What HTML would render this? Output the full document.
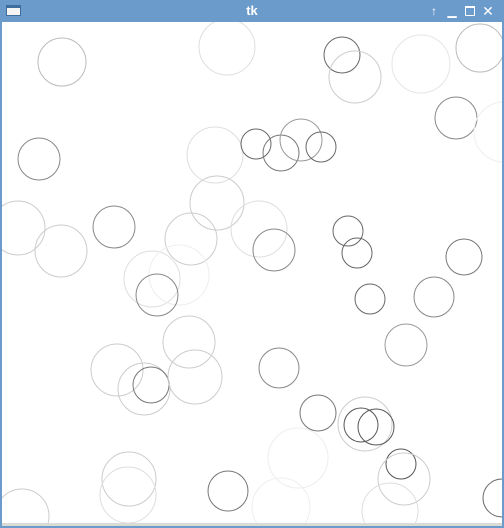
<!DOCTYPE html>
<html><head><meta charset="utf-8">
<style>
html,body{margin:0;padding:0;width:504px;height:528px;overflow:hidden;background:#6b9bcb;font-family:"Liberation Sans","DejaVu Sans",sans-serif}
#win{position:absolute;left:0;top:0;width:504px;height:528px;background:#6b9bcb}
#title{position:absolute;left:0;top:0;width:504px;height:22px;color:#fff;font-weight:bold;font-size:13px;text-align:center;line-height:22px}
#canvas{position:absolute;left:2px;top:22px;width:500px;height:501px;background:#fff}
#statusbar{position:absolute;left:2px;top:523px;width:500px;height:3px;background:#dcdad5}
.btn{position:absolute;top:5px;width:12px;height:12px;color:#fff;font-size:12px;line-height:12px;text-align:center}
</style></head><body>
<div id="win">
  <div id="title">tk</div>
  <div style="position:absolute;left:6px;top:5px;width:15px;height:11px;background:#f4f4f4;border:1px solid #3f6e9c;border-top:3px solid #3f6e9c;box-sizing:border-box"></div>
  <div class="btn" style="left:428px">↑</div>
  <div class="btn" style="left:446px">▁</div>
  <div class="btn" style="left:464px"><div style="margin:1px;width:10px;height:10px;border:1px solid #fff;border-top-width:2px;box-sizing:border-box"></div></div>
  <div class="btn" style="left:482px;font-weight:bold;font-size:14px">✕</div>
  <svg id="canvas" width="500" height="501" viewBox="2 22 500 501"></svg>
  <div id="statusbar"></div>
</div>
<script>
const cxs=[62,227,39,215,217,18,61,114,191,259,152,179,157,189,117,144,151,195,129,128,22,228,342,355,421,480,456,504,256,281,301,321,274,348,357,464,370,434,406,279,318,365,361,376,298,281,401,404,390,502];
const cys=[62,47,159,155,203,228,251,227,239,229,279,275,295,342,370,389,385,377,479,495,516,491,55,77,64,48,118,132,144,153,140,147,250,231,253,257,299,297,345,368,413,424,425,427,458,507,464,479,511,498];
const rs=[24,28,21,28,27,27,26,21,26,28,28,30,21,26,26,26,18,27,27,28,27,20,18,26,29,24,21,30,15,18,21,15,21,15,15,18,15,20,21,20,18,27,17,18,30,29,15,26,28,19];
const shades=["#bbb","#ddd","#888","#ddd","#ccc","#ccc","#ccc","#888","#ccc","#ddd","#ddd","#eee","#888","#ccc","#ccc","#ccc","#777","#ccc","#ccc","#ddd","#ccc","#777","#666","#ccc","#e5e5e5","#bbb","#888","#eee","#666","#777","#999","#666","#888","#666","#666","#777","#666","#888","#999","#888","#777","#ccc","#555","#555","#eee","#eee","#555","#ccc","#ddd","#666"];
const svg=document.getElementById('canvas');
const NS='http://www.w3.org/2000/svg';
for(let i=0;i<cxs.length;i++){
  const c=document.createElementNS(NS,'circle');
  c.setAttribute('cx',cxs[i]);c.setAttribute('cy',cys[i]);c.setAttribute('r',rs[i]);
  c.setAttribute('fill','none');c.setAttribute('stroke',shades[i]);c.setAttribute('stroke-width','1');
  
  
  svg.appendChild(c);
}
</script>
</body></html>
